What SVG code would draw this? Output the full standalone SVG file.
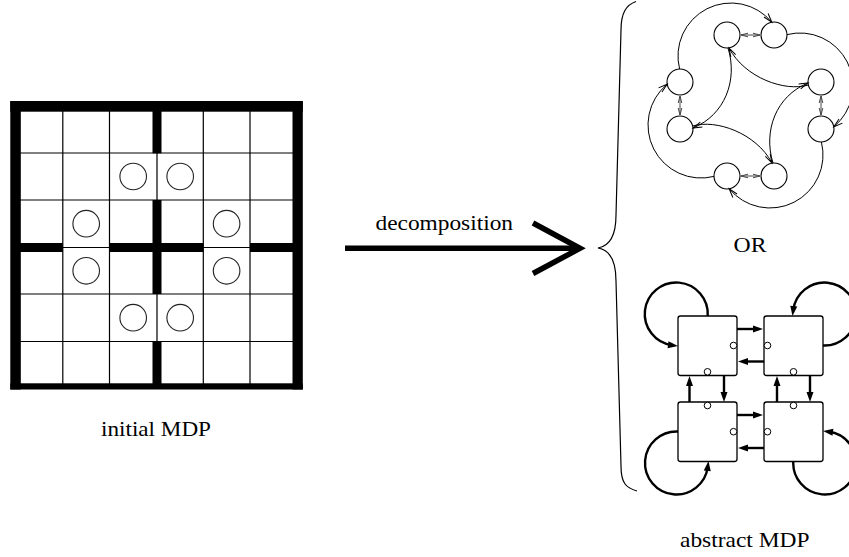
<svg xmlns="http://www.w3.org/2000/svg" width="849" height="557" viewBox="0 0 849 557">
<defs>
<style>
.gl{fill:none;stroke:#000;stroke-width:1.2}
.wall{fill:#000}
.gc{fill:none;stroke:#222;stroke-width:1.1}
.lbl{font-family:"Liberation Serif","Times New Roman",serif;font-size:21px;fill:#000}
.node{fill:#fff;stroke:#000;stroke-width:1.1}
.pair{fill:none;stroke:#444;stroke-width:1;marker-start:url(#pairhead);marker-end:url(#pairhead)}
.edge{fill:none;stroke:#000;stroke-width:1;marker-end:url(#stick)}
.box{fill:#fff;stroke:#000;stroke-width:1.3}
.port{fill:#fff;stroke:#000;stroke-width:1}
.bold{fill:none;stroke:#000;stroke-width:2.4;marker-end:url(#tri)}
</style>
<marker id="stick" markerUnits="userSpaceOnUse" markerWidth="12" markerHeight="8" refX="9" refY="3" orient="auto" overflow="visible">
<path d="M0,0.3 L9,3 L0,5.7" fill="none" stroke="#000" stroke-width="1"/>
</marker>
<marker id="pairhead" markerUnits="userSpaceOnUse" markerWidth="8" markerHeight="5" refX="7" refY="2.2" orient="auto-start-reverse" overflow="visible">
<path d="M0,0.4 L7,2.2 L0,4" fill="none" stroke="#444" stroke-width="1"/>
</marker>
<marker id="tri" markerUnits="userSpaceOnUse" markerWidth="11" markerHeight="8" refX="4" refY="3.5" orient="auto" overflow="visible">
<path d="M0,0 L10,3.5 L0,7 Z" fill="#000"/>
</marker>
</defs>
<rect width="849" height="557" fill="#fff"/>

<g id="initial-mdp">
<g class="gl">
<path d="M62.8,106V388M109.5,106V388M157,106V388M203.3,106V388M250,106V388"/>
<path d="M16,153H297M16,200H297M16,247.5H297M16,294H297M16,341.5H297"/>
</g>
<g class="wall">
<rect x="152.5" y="106" width="9" height="47.3"/>
<rect x="152.5" y="200" width="9" height="94"/>
<rect x="152.5" y="341.5" width="9" height="46"/>
<rect x="16" y="243" width="46.8" height="9"/>
<rect x="109.5" y="243" width="93.8" height="9"/>
<rect x="250" y="243" width="47" height="9"/>
<rect x="10.3" y="101" width="292.5" height="10.7"/>
<rect x="10.3" y="383.3" width="292.5" height="6.2"/>
<rect x="10.3" y="101" width="10.5" height="288.5"/>
<rect x="292.5" y="101" width="10.3" height="288.5"/>
</g>
<g class="gc">
<circle cx="133.2" cy="176.5" r="13.3"/>
<circle cx="180.2" cy="176.5" r="13.3"/>
<circle cx="86.2" cy="223.7" r="13.3"/>
<circle cx="226.6" cy="223.7" r="13.3"/>
<circle cx="86.2" cy="270.8" r="13.3"/>
<circle cx="226.6" cy="270.8" r="13.3"/>
<circle cx="133.2" cy="317.7" r="13.3"/>
<circle cx="180.2" cy="317.7" r="13.3"/>
</g>
</g>

<g id="label-initial"><text class="lbl" x="101" y="436" textLength="110" lengthAdjust="spacingAndGlyphs">initial MDP</text></g>
<g id="label-decomposition"><text class="lbl" x="375.5" y="230" textLength="137.5" lengthAdjust="spacingAndGlyphs">decomposition</text></g>
<g id="label-or"><text class="lbl" x="733.5" y="252" textLength="33" lengthAdjust="spacingAndGlyphs">OR</text></g>
<g id="label-abstract"><text class="lbl" x="680" y="547" textLength="129.5" lengthAdjust="spacingAndGlyphs">abstract MDP</text></g>

<g id="decomposition-arrow">
<path d="M345,248.3H578" fill="none" stroke="#000" stroke-width="5.5"/>
<polyline points="533,223 580,248.3 533,273.5" fill="none" stroke="#000" stroke-width="5.5" stroke-miterlimit="10"/>
</g>

<g id="brace">
<path d="M636,1.5 C626,5 621,13 621,30 L616,215 C616,236 610,246 598,248 C610,250 616,260 616,281 L621,466 C621,483 626,488 637,491" fill="none" stroke="#000" stroke-width="1.2"/>
</g>

<g id="top-graph-nodes">
<g id="s-tl"><circle class="node" cx="727" cy="35" r="13"/></g>
<g id="s-tr"><circle class="node" cx="774" cy="35" r="13"/></g>
<g id="s-ru"><circle class="node" cx="821" cy="82" r="13"/></g>
<g id="s-rl"><circle class="node" cx="821" cy="129" r="13"/></g>
<g id="s-br"><circle class="node" cx="774" cy="176" r="13"/></g>
<g id="s-bl"><circle class="node" cx="727" cy="176" r="13"/></g>
<g id="s-ll"><circle class="node" cx="680" cy="129" r="13"/></g>
<g id="s-lu"><circle class="node" cx="680" cy="82" r="13"/></g>
</g>

<g id="bottom-graph-nodes">
<g id="room-tl"><rect class="box" x="678" y="316" width="59" height="59.5" rx="2.5"/><circle class="port" cx="733.5" cy="345.5" r="3.3"/><circle class="port" cx="707.5" cy="371.8" r="3.3"/></g>
<g id="room-tr"><rect class="box" x="764" y="316" width="59" height="59.5" rx="2.5"/><circle class="port" cx="767.5" cy="345.5" r="3.3"/><circle class="port" cx="793.5" cy="371.8" r="3.3"/></g>
<g id="room-bl"><rect class="box" x="678" y="402" width="59" height="59.5" rx="2.5"/><circle class="port" cx="707.5" cy="405.5" r="3.3"/><circle class="port" cx="733.5" cy="431.7" r="3.3"/></g>
<g id="room-br"><rect class="box" x="764" y="402" width="59" height="59.5" rx="2.5"/><circle class="port" cx="793.5" cy="405.5" r="3.3"/><circle class="port" cx="767.5" cy="431.7" r="3.3"/></g>
</g>

<g id="connectors">
<path class="edge" d="M679.6,69 A53,53 0 0 1 771.8,22.2"/>
<path class="edge" d="M787,34.6 A53,53 0 0 1 833.8,126.8"/>
<path class="edge" d="M821.4,142 A53,53 0 0 1 729.2,188.8"/>
<path class="edge" d="M714,176.4 A53,53 0 0 1 667.2,84.2"/>
<path class="edge" d="M808.3,85 C785,92 745,78 729,48"/>
<path class="edge" d="M728,48 C738,80 725,115 693,128"/>
<path class="edge" d="M692.7,126 C716,119 756,133 772,163"/>
<path class="edge" d="M773,163 C763,131 776,96 808,83"/>
<path class="pair" d="M741,35H760"/>
<path class="pair" d="M741,176H760"/>
<path class="pair" d="M680,96V115"/>
<path class="pair" d="M821,96V115"/>

<path class="bold" d="M737,329H757"/>
<path class="bold" d="M764,361.5H744"/>
<path class="bold" d="M737,415H757"/>
<path class="bold" d="M764,448H744"/>
<path class="bold" d="M689.5,402V382"/>
<path class="bold" d="M724,375.5V396"/>
<path class="bold" d="M777,402V382"/>
<path class="bold" d="M810,375.5V396"/>
<path class="bold" d="M707.7,316 A31.5,31.5 0 1 0 672,345.2"/>
<path class="bold" d="M823,345.5 A31.5,31.5 0 1 0 793.25,310.05"/>
<path class="bold" d="M678,431.5 A31.5,31.5 0 1 0 707.75,466.95"/>
<path class="bold" d="M793.3,461 A31.5,31.5 0 1 0 829,431.8"/>
</g>
</svg>
